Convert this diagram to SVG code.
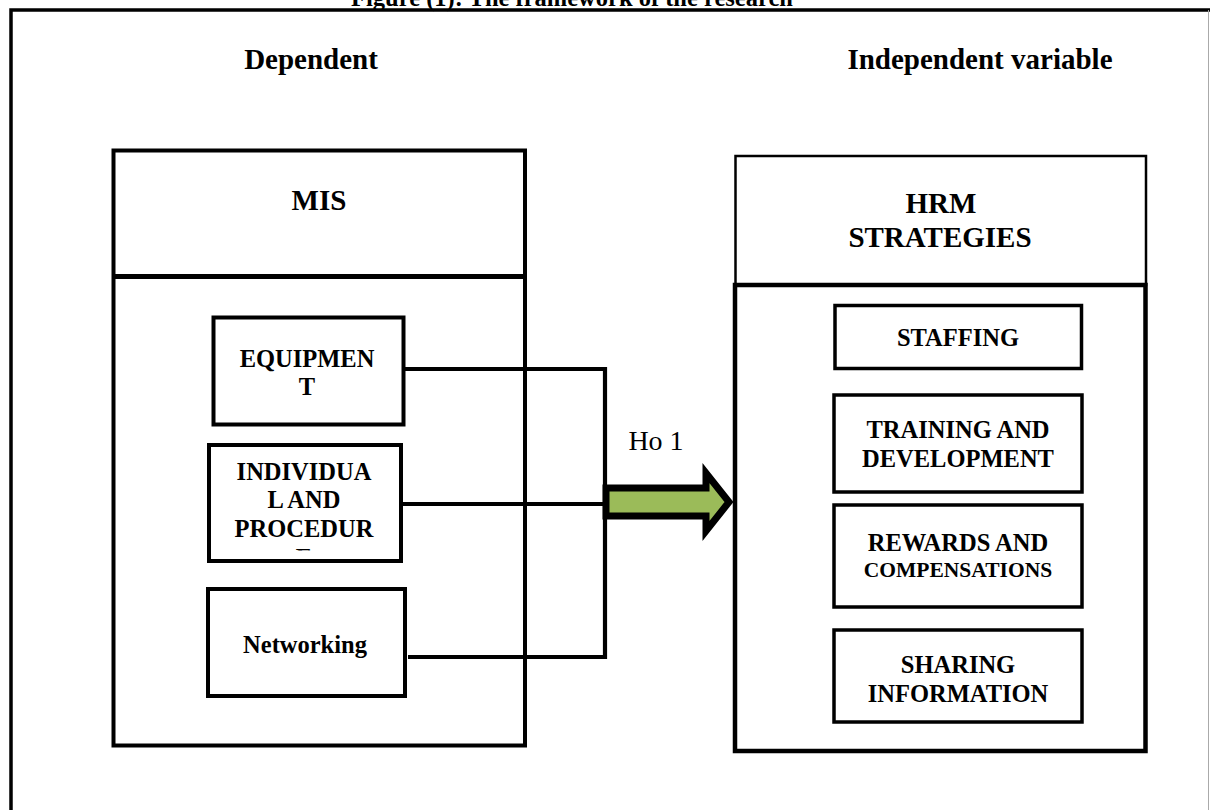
<svg xmlns="http://www.w3.org/2000/svg" width="1210" height="810" viewBox="0 0 1210 810">
<style>
text{font-family:"Liberation Serif","Times New Roman",serif;fill:#000;text-anchor:middle}
.b{font-weight:bold}
.h{font-size:29px;font-weight:bold}
.l{font-size:24.5px;font-weight:bold}
.box{fill:#fff;stroke:#000;stroke-width:3.5}
.con{fill:none;stroke:#000;stroke-width:4.2}
</style>
<defs>
<clipPath id="clipE"><rect x="200" y="540" width="210" height="10.5"/></clipPath>
</defs>
<rect x="0" y="0" width="1210" height="810" fill="#fff"/>
<g id="frame">
<text x="572" y="6" class="b" style="font-size:24.5px">Figure (1): The framework of the research</text>
<path d="M11,810 V10 H1210" fill="none" stroke="#000" stroke-width="3.5"/>
<line x1="1208.5" y1="10" x2="1208.5" y2="810" stroke="#aaa" stroke-width="1"/>
<text x="311" y="69" class="h">Dependent</text>
<text x="980" y="69" class="h">Independent variable</text>
</g>
<g id="mis">
<rect x="113.5" y="150.5" width="411.5" height="595" class="box" style="stroke-width:4"/>
<line x1="113.5" y1="276.5" x2="525" y2="276.5" stroke="#000" stroke-width="5"/>
<text x="319" y="210" class="h">MIS</text>
</g>
<g id="equipment">
<rect x="213.5" y="317.5" width="190" height="107" class="box" style="stroke-width:4"/>
<text x="307" y="367" class="l">EQUIPMEN</text>
<text x="307" y="395" class="l">T</text>
</g>
<g id="individual">
<rect x="209" y="445" width="192" height="116" class="box" style="stroke-width:4"/>
<text x="304" y="480" class="l">INDIVIDUA</text>
<text x="304" y="508" class="l">L AND</text>
<text x="304" y="537" class="l">PROCEDUR</text>
<text x="304" y="566" class="l" clip-path="url(#clipE)">E</text>
</g>
<g id="networking">
<rect x="208" y="589" width="197" height="107" class="box" style="stroke-width:4"/>
<text x="305" y="653" class="l">Networking</text>
</g>
<g id="hrm">
<rect x="735.5" y="156" width="410.5" height="129" class="box" style="stroke-width:2.5"/>
<rect x="735" y="285" width="410.5" height="466" class="box" style="stroke-width:4.5"/>
<text x="941" y="213" class="h">HRM</text>
<text x="940" y="247" class="h">STRATEGIES</text>
</g>
<g id="staffing">
<rect x="835" y="305.5" width="246.5" height="63" class="box"/>
<text x="958" y="346" class="l">STAFFING</text>
</g>
<g id="training">
<rect x="834" y="395" width="248" height="97" class="box"/>
<text x="958" y="438" class="l">TRAINING AND</text>
<text x="958" y="467" class="l">DEVELOPMENT</text>
</g>
<g id="rewards">
<rect x="834" y="505" width="248" height="102" class="box"/>
<text x="958" y="551" class="l">REWARDS AND</text>
<text x="958" y="577" class="b" style="font-size:21.5px">COMPENSATIONS</text>
</g>
<g id="sharing">
<rect x="834" y="630" width="248" height="92" class="box"/>
<text x="958" y="673" class="l">SHARING</text>
<text x="958" y="702" class="l">INFORMATION</text>
</g>
<g id="connectors">
<path d="M405,369 H605 V657 H408" class="con"/>
<path d="M401,504 H606" class="con"/>
<polygon points="606,488 706,488 706,473 729,502 706,531 706,516 606,516" fill="#9BBB59" stroke="#000" stroke-width="7" stroke-linejoin="miter" stroke-miterlimit="10"/>
<text x="656" y="450" style="font-size:28px">Ho 1</text>
</g>
</svg>
